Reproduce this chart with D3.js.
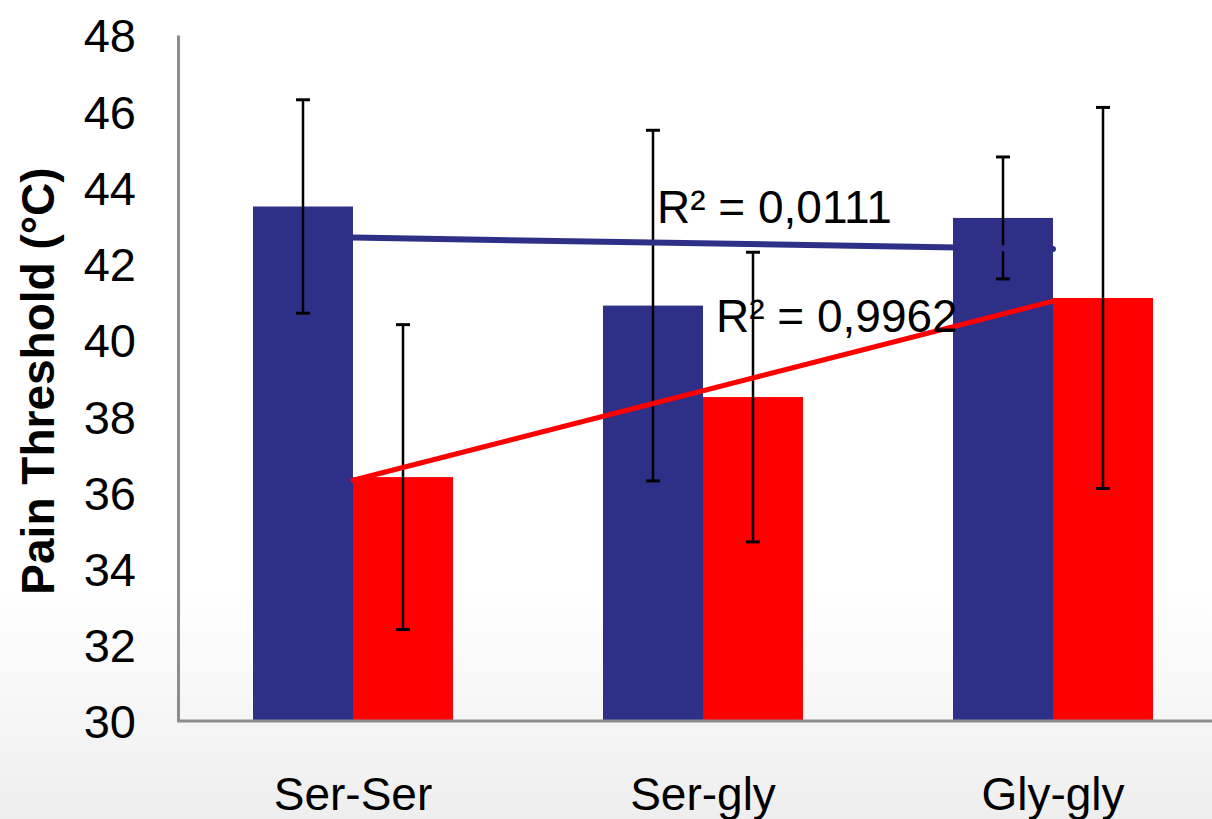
<!DOCTYPE html>
<html>
<head>
<meta charset="utf-8">
<script src="https://cdn.jsdelivr.net/npm/d3@7"></script>
<style>
  html, body { margin: 0; padding: 0; background: #fff; overflow: hidden; }
  svg { display: block; font-family: "Liberation Sans", Arial, sans-serif; }
</style>
</head>
<body>
<div id="chart"></div>
<script>
const categories = ["Ser-Ser", "Ser-gly", "Gly-gly"]
const seriesKeys = ["blue", "red"]
const blueValues = [43.5, 40.9, 43.2]
const blueErrors = [2.8, 4.6, 1.6]
const redValues = [36.4, 38.5, 41.1]
const redErrors = [4.0, 3.8, 5.0]
const yTicks = [30, 32, 34, 36, 38, 40, 42, 44, 46, 48]
const r2Labels = ["R² = 0,0111", "R² = 0,9962"]

const width = 1212,
    height = 819,
    colors = { blue: "#2e3087", red: "#ff0000" }

const svg = d3.select("#chart").append("svg")
    .attr("width", width)
    .attr("height", height)

// faint slide background shading near the bottom
const defs = svg.append("defs")
const grad = defs.append("linearGradient")
    .attr("id", "bg").attr("x1", 0).attr("y1", 0).attr("x2", 0).attr("y2", 1)
grad.append("stop").attr("offset", "0.72").attr("stop-color", "#ffffff")
grad.append("stop").attr("offset", "1").attr("stop-color", "#eeeeee")
svg.append("rect").attr("width", width).attr("height", height).attr("fill", "url(#bg)")

const x = d3.scaleBand()
    .domain(categories)
    .range([178, 1228])
    .paddingInner(3 / 7)
    .paddingOuter(1.5 / 7)

const xs = d3.scaleBand()
    .domain(seriesKeys)
    .range([0, x.bandwidth()])

const y = d3.scaleLinear()
    .domain([30, 48])
    .range([721, 35])

const rows = categories.map((c, i) => ({
    cat: c,
    vals: [
        { key: "blue", v: blueValues[i], e: blueErrors[i] },
        { key: "red", v: redValues[i], e: redErrors[i] }
    ]
}))

// bars
const groups = svg.append("g").selectAll("g")
    .data(rows)
    .join("g")
    .attr("transform", d => `translate(${x(d.cat)},0)`)

groups.selectAll("rect")
    .data(d => d.vals)
    .join("rect")
    .attr("x", d => xs(d.key))
    .attr("width", xs.bandwidth())
    .attr("y", d => y(d.v))
    .attr("height", d => y(30) - y(d.v))
    .attr("fill", d => colors[d.key])

// axes
svg.append("g")
    .attr("transform", `translate(178,0)`)
    .call(d3.axisLeft(y).tickValues(yTicks).tickSize(0).tickPadding(42))
    .call(g => g.select(".domain").attr("stroke", "#8c8c8c").attr("stroke-width", 3))
    .call(g => g.selectAll("text")
        .attr("fill", "#000")
        .style("font-size", "47px")
        .attr("dy", "0.36em"))

svg.append("line")
    .attr("x1", 177).attr("x2", width)
    .attr("y1", y(30)).attr("y2", y(30))
    .attr("stroke", "#8c8c8c")
    .attr("stroke-width", 3)

svg.append("g")
    .selectAll("text")
    .data(categories)
    .join("text")
    .attr("x", d => x(d) + x.bandwidth() / 2)
    .attr("y", 810)
    .attr("text-anchor", "middle")
    .style("font-size", "46px")
    .text(d => d)

svg.append("text")
    .attr("transform", `translate(54,${381}) rotate(-90)`)
    .attr("text-anchor", "middle")
    .style("font-size", "46px")
    .style("font-weight", "bold")
    .text("Pain Threshold (°C)")

// linear trendlines (least squares over category index)
function fit(vals) {
    const xsIdx = vals.map((_, i) => i + 1)
    const mx = d3.mean(xsIdx), my = d3.mean(vals)
    const slope = d3.sum(xsIdx, (xi, i) => (xi - mx) * (vals[i] - my)) / d3.sum(xsIdx, xi => (xi - mx) ** 2)
    const icpt = my - slope * mx
    return [1, xsIdx.length].map(xi => ({ xi, v: icpt + slope * xi }))
}

const center = i => x(categories[i]) + x.bandwidth() / 2
const trend = d3.line()
    .x(d => center(d.xi - 1))
    .y(d => y(d.v))

svg.append("path")
    .attr("d", trend(fit(blueValues)))
    .attr("stroke", colors.blue)
    .attr("stroke-width", 6)
    .attr("stroke-linecap", "round")
    .attr("fill", "none")

svg.append("path")
    .attr("d", trend(fit(redValues)))
    .attr("stroke", colors.red)
    .attr("stroke-width", 5)
    .attr("stroke-linecap", "round")
    .attr("fill", "none")

// error bars
const err = groups.selectAll("g.err")
    .data(d => d.vals)
    .join("g")
    .attr("class", "err")
    .attr("transform", d => `translate(${xs(d.key) + xs.bandwidth() / 2},0)`)

err.append("line")
    .attr("y1", d => y(d.v + d.e))
    .attr("y2", d => y(d.v - d.e))
    .attr("stroke", "#000")
    .attr("stroke-width", 2.5)

err.selectAll("line.cap")
    .data(d => [d.v + d.e, d.v - d.e])
    .join("line")
    .attr("class", "cap")
    .attr("x1", -7).attr("x2", 7)
    .attr("y1", d => y(d)).attr("y2", d => y(d))
    .attr("stroke", "#000")
    .attr("stroke-width", 3)

// R² labels
svg.append("text")
    .attr("x", 657).attr("y", 223)
    .style("font-size", "46px")
    .text(r2Labels[0])

svg.append("text")
    .attr("x", 716).attr("y", 332)
    .style("font-size", "46px")
    .text(r2Labels[1])
</script>
</body>
</html>
